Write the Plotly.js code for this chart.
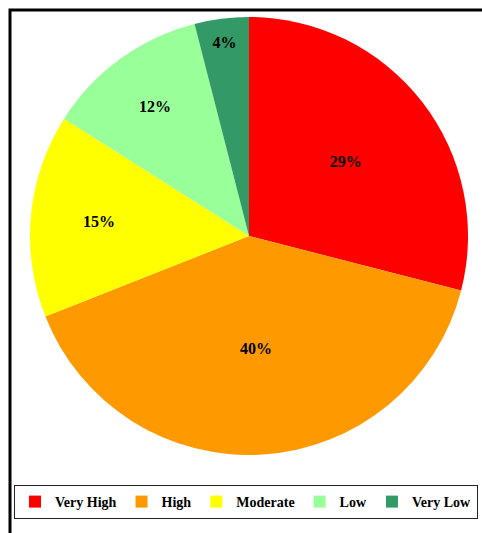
<!DOCTYPE html>
<html><head><meta charset="utf-8">
<script src="https://cdn.plot.ly/plotly-3.0.1.min.js"></script>
<style>html,body{margin:0;padding:0;background:#fff}#chart{width:482px;height:533px}</style>
</head><body><div id="chart"></div>
<script>
const categories = ["Very High", "High", "Moderate", "Low", "Very Low"];
const shares = [29, 40, 15, 12, 4];
const colors = ["#FF0000", "#FF9900", "#FFFF00", "#99FF99", "#339966"];

const W = 482, H = 533;
const cx = 249, cy = 236, r = 219;
const FONT = "Liberation Serif";

const data = [{
  type: "pie",
  labels: categories,
  values: shares,
  sort: false,
  direction: "clockwise",
  rotation: 0,
  marker: {colors: colors, line: {width: 0}},
  textinfo: "percent",
  texttemplate: "%{percent:.0%}",
  textposition: "inside",
  insidetextorientation: "horizontal",
  textfont: {family: FONT, size: 16, color: "#000", weight: "bold"},
  hoverinfo: "label+percent",
  domain: {x: [(cx - r) / W, (cx + r) / W], y: [1 - (cy + r) / H, 1 - (cy - r) / H]}
}];

const layout = {
  width: W, height: H,
  margin: {l: 0, r: 0, t: 0, b: 0},
  paper_bgcolor: "#fff",
  font: {family: FONT},
  showlegend: true,
  legend: {
    orientation: "h", x: 246 / W, xanchor: "center", y: 1 - 502 / H, yanchor: "middle",
    font: {family: FONT, size: 14, color: "#000", weight: "bold"},
    bordercolor: "#222", borderwidth: 1, bgcolor: "#fff",
    traceorder: "normal"
  },
  shapes: [{
    type: "rect", xref: "paper", yref: "paper",
    x0: 10 / W, x1: 1.05, y0: -0.05, y1: 1 - 10 / H,
    line: {color: "#000", width: 3}, fillcolor: "rgba(0,0,0,0)", layer: "below"
  }]
};

Plotly.newPlot("chart", data, layout, {displayModeBar: false, staticPlot: true});
</script></body></html>
